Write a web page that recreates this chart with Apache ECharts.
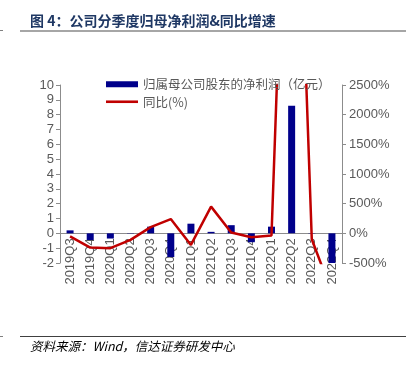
<!DOCTYPE html>
<html>
<head>
<meta charset="utf-8">
<script src="https://cdn.jsdelivr.net/npm/echarts@6/dist/echarts.min.js"></script>
<style>
  html, body { margin: 0; padding: 0; background: #fff; }
  #chart { width: 411px; height: 367px; }
</style>
</head>
<body>
<div id="chart"></div>
<script>
// 季度
const quarters = ['2019Q3', '2019Q4', '2020Q1', '2020Q2', '2020Q3', '2020Q4', '2021Q1',
  '2021Q2', '2021Q3', '2021Q4', '2022Q1', '2022Q2', '2022Q3', '2022Q4']
// 归属母公司股东的净利润（亿元）
const netProfit = [0.2, -0.45, -0.35, 0.02, 0.45, -1.6, 0.65, 0.1, 0.55, -0.6, 0.45, 8.6, 0.02, -2.0]
// 同比(%)
const yoy = [-50, -240, -250, -110, 105, 240, -195, 450, 15, -65, -35, 9500, -100, -1000]

const leftTicks = { min: -2, max: 10, interval: 1 }
const rightTicks = { min: -500, max: 2500, interval: 500 }

const myChart = echarts.init(document.getElementById('chart'))
const grey = '#595959'
const cjk = '"Noto Sans CJK SC", sans-serif'
const latin = '"Liberation Sans", Arial, sans-serif'

const gridTop = 85, gridBottom = 104
const plotH = 367 - gridTop - gridBottom
// 把横轴（含标签）移到 0 刻度处
const zeroOffset = -plotH * (0 - leftTicks.min) / (leftTicks.max - leftTicks.min)

const option = {
  animation: false,
  grid: { left: 60, right: 69, top: gridTop, bottom: gridBottom },
  legend: {
    orient: 'vertical',
    left: 101,
    top: 73,
    itemGap: 5,
    itemWidth: 32,
    itemHeight: 6,
    textStyle: { color: grey, fontSize: 12.5, fontFamily: cjk },
    data: [
      { name: '归属母公司股东的净利润（亿元）', icon: 'rect' },
      { name: '同比(%)', icon: 'path://M0,0H32V2.6H0Z' }
    ]
  },
  xAxis: {
    type: 'category',
    data: quarters,
    offset: zeroOffset,
    axisLine: { onZero: false, lineStyle: { color: '#8c8c8c' } },
    axisTick: { show: false },
    axisLabel: {
      rotate: 90,
      interval: 0,
      color: grey,
      fontSize: 13,
      fontFamily: latin,
      margin: 5
    }
  },
  yAxis: [
    {
      type: 'value',
      min: leftTicks.min,
      max: leftTicks.max,
      interval: leftTicks.interval,
      axisLine: { show: true, lineStyle: { color: '#8c8c8c' } },
      axisTick: { show: true, length: 4, lineStyle: { color: '#8c8c8c' } },
      splitLine: { show: false },
      axisLabel: { color: grey, fontSize: 13, margin: 6, fontFamily: latin }
    },
    {
      type: 'value',
      min: rightTicks.min,
      max: rightTicks.max,
      interval: rightTicks.interval,
      position: 'right',
      axisLine: { show: true, lineStyle: { color: '#8c8c8c' } },
      axisTick: { show: true, length: 4, lineStyle: { color: '#8c8c8c' } },
      splitLine: { show: false },
      axisLabel: { color: grey, fontSize: 13, margin: 7, fontFamily: latin, formatter: v => v + '%' }
    }
  ],
  series: [
    {
      name: '归属母公司股东的净利润（亿元）',
      type: 'bar',
      barWidth: 7,
      itemStyle: { color: '#00008b' },
      data: netProfit
    },
    {
      name: '同比(%)',
      type: 'line',
      yAxisIndex: 1,
      symbol: 'none',
      clip: true,
      lineStyle: { color: '#c00000', width: 2.5 },
      itemStyle: { color: '#c00000' },
      data: yoy
    }
  ],
  graphic: [
    {
      type: 'text', left: 30, top: 14,
      style: { text: '图 4：公司分季度归母净利润&同比增速', fill: '#1f3864', font: 'bold 14px "Noto Sans CJK SC"' }
    },
    { type: 'rect', shape: { x: 20, y: 30, width: 386, height: 2 }, style: { fill: '#a6a6a6' } },
    { type: 'rect', shape: { x: 0, y: 30, width: 3, height: 1 }, style: { fill: '#808080' } },
    { type: 'rect', shape: { x: 20, y: 336, width: 386, height: 1 }, style: { fill: '#404040' } },
    { type: 'rect', shape: { x: 0, y: 336, width: 3, height: 1 }, style: { fill: '#808080' } },
    {
      type: 'text', left: 30, top: 340,
      style: { text: '资料来源：Wind，信达证券研发中心', fill: '#000', font: 'italic 12.5px "Noto Sans CJK SC"' }
    }
  ]
}

myChart.setOption(option)
</script>
</body>
</html>
